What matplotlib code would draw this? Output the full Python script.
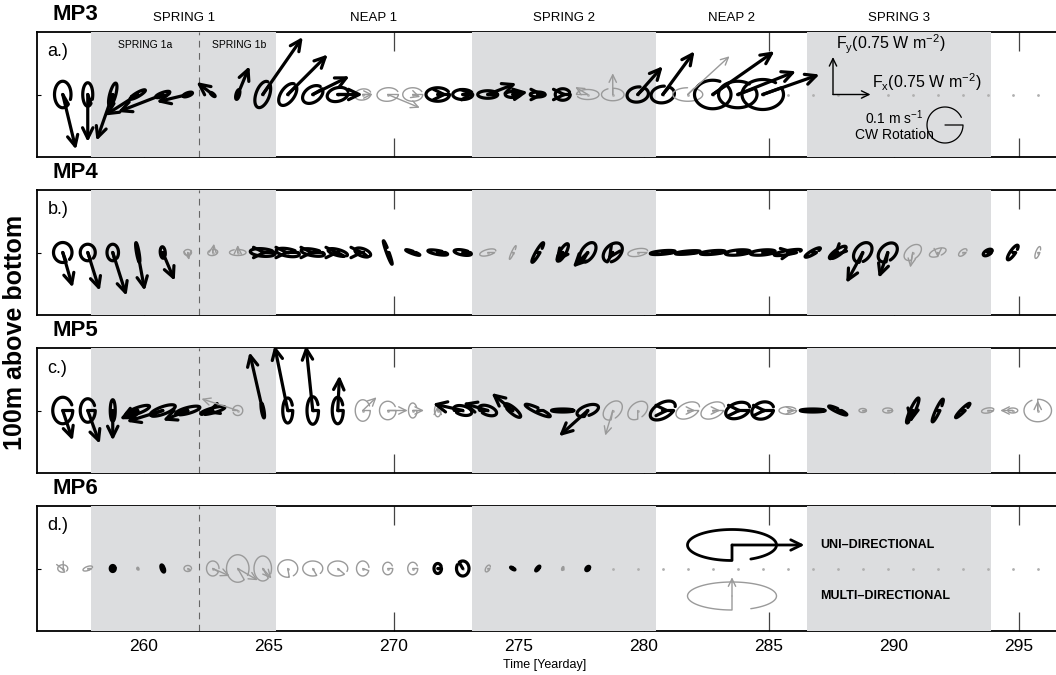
import matplotlib
matplotlib.use('Agg')
import matplotlib.pyplot as plt
from matplotlib.patches import FancyArrowPatch
import numpy as np

plt.rcParams['font.family'] = ['Liberation Sans', 'DejaVu Sans']
plt.rcParams['mathtext.default'] = 'regular'

# hourly-averaged tidal ellipses, one per day starting at yearday 256.75
yeardays = 256.75 + np.arange(41)

# spring / neap periods (shaded = spring)
springs = [(257.9, 265.3), (273.1, 280.5), (286.5, 293.9)]
spring1_split = 262.2
period_names = ['SPRING 1', 'NEAP 1', 'SPRING 2', 'NEAP 2', 'SPRING 3']
period_mid = [261.6, 269.2, 276.8, 283.5, 290.2]

# per-station ellipse parameters: semi-major, semi-minor, orientation (deg),
# phase direction (deg), energy flux Fx, Fy, uni-directional flag
mp3_a = [.53, .47, .47, .35, .3, .2, .12, .2, .55, .5, .45, .43, .33, .43, .4,
         .47, .4, .4, .3, .3, .3, .45, .45, .43, .47, .6, .73, .77, .83]
mp3_b = [.33, .2, .12, .08, .08, .07, .04, .07, .27, .27, .3, .27, .22, .27, .27,
         .27, .2, .15, .12, .1, .23, .2, .25, .3, .33, .27, .57, .53, .6]
mp3_ang = [90, 90, 75, 30, 20, 20, -40, 75, 70, 55, 35, 15, 10, 5, 0,
           0, 0, 0, 0, 0, 0, 0, 0, 10, 10, 0, 0, 0, 0]
mp3_ph = [-60, -70, -100, 200, 200, 200, 140, 60, 55, 45, 30, 0, 0, 0, 0,
          0, 0, 0, 0, 0, 0, 180, 90, 45, 50, 45, 35, 20, 20]
mp3_fx = [.53, 0, -.65, -1.32, -1.8, -1.25, -.65, .47, 1.6, 1.6, 1.47, 1.0, .4, 1.28, .3,
          .4, .5, 1.15, .6, .3, .2, -.5, 0, 1.0, 1.27, 1.67, 2.47, 2.33, 2.27]
mp3_fy = [-2.2, -1.9, -1.85, -.84, -.7, -.3, .5, 1.13, 2.3, 1.6, .73, 0, 0, -.53, -.1,
          0, .05, .45, .1, 0, 0, .3, .85, 1.13, 1.73, 1.53, 1.73, .93, .8]
mp3_uni = [1, 1, 1, 1, 1, 1, 1, 1, 1, 1, 1, 1, 0, 0, 0,
           1, 1, 1, 1, 1, 1, 0, 0, 1, 1, 0, 1, 1, 1]

mp4_a = [.4, .33, .33, .4, .23, .15, .2, .33, .5, .47, .47, .4, .33, .5, .3, .4, .35, .33, .3, .45,
         .4, .45, .45, .4, .5, .5, .5, .5, .5, .55, .35, .4, .45, .45, .4, .35, .2, .2, .35, .25]
mp4_b = [.37, .3, .23, .05, .1, .12, .12, .12, .15, .15, .13, .12, .15, .05, .05, .08, .1, .12, .05, .08,
         .12, .25, .3, .15, .07, .06, .07, .1, .1, .08, .08, .12, .3, .3, .25, .15, .1, .1, .1, .08]
mp4_ang = [90, 90, 90, 100, 95, 0, 10, 0, -5, -10, -10, -15, -20, -70, -20, -10, -10, 15, 65, 60,
           60, 55, 45, 10, 5, 5, 5, 5, 5, 10, 30, 35, 50, 45, 40, 20, 40, 30, 55, 70]
mp4_ph = [-70, -70, -75, -80, -70, -80, 90, 90, 0, 0, 0, -30, -40, 0, 0, 0, 0, 0, 0, 0,
          -120, -120, -120, 0, 0, 0, 0, 0, 0, 0, 0, -140, -110, -100, -100, -90, 0, 0, 0, 0]
mp4_fx = [.4, .48, .55, .28, .48, .05, .05, 0, .2, .1, .1, .1, .1, 0, 0, 0, 0, 0, 0, 0,
          -.3, -.6, -.2, 0, 0, 0, 0, 0, 0, .3, 0, -.2, -.66, -.36, -.1, 0, 0, 0, 0, 0]
mp4_fy = [-1.4, -1.53, -1.73, -1.53, -1.13, -.3, .35, .3, 0, 0, 0, 0, 0, 0, 0, 0, 0, 0, 0, 0,
          -.4, -.6, -.3, 0, 0, 0, 0, 0, 0, .05, 0, -.2, -1.22, -1.02, -.6, -.2, 0, 0, 0, 0]
mp4_uni = [1, 1, 1, 1, 1, 0, 0, 0, 1, 1, 1, 1, 1, 1, 1, 1, 1, 0, 0, 1,
           1, 1, 1, 0, 1, 1, 1, 1, 1, 1, 1, 1, 1, 1, 0, 0, 0, 1, 1, 0]

mp5_a = [.53, .47, .43, .5, .53, .5, .5, .2, .3, .5, .55, .53, .43, .37, .3, .25, .37, .37, .4, .55,
         .45, .45, .45, .45, .55, .5, .5, .5, .45, .35, .5, .4, .15, .2, .55, .5, .4, .25, .2, .55]
mp5_b = [.4, .3, .1, .12, .15, .12, .1, .2, .05, .2, .23, .22, .3, .33, .17, .13, .18, .18, .12, .1,
         .06, .2, .3, .3, .3, .3, .3, .3, .33, .15, .06, .07, .08, .1, .1, .08, .07, .1, .1, .45]
mp5_ang = [90, 90, 90, 20, 20, 15, 15, 0, 100, 90, 90, 90, 90, 90, 90, 90, -15, -20, -40, -25,
           0, 20, 45, 40, 30, 25, 25, 20, 20, 0, 0, -25, 0, 0, 65, 65, 45, 10, 0, 0]
mp5_ph = [0, 0, -90, 200, 200, 200, 200, 180, 100, 0, 0, 0, 0, 0, 0, 90, 180, 180, 150, 0,
          0, -120, -100, -90, 0, 0, 0, 0, 0, 0, 0, 0, 0, 0, -110, 0, 0, 0, 180, 90]
mp5_fx = [.4, .48, 0, -.72, -1.45, -1.0, -.3, -1.45, -.53, -.53, -.27, .07, .55, .8, .45, 0, -1.2, -1.0, -.85, 0,
          0, -1.15, -.3, 0, .3, .3, .3, .2, .2, .3, 0, 0, 0, 0, -.1, 0, 0, 0, -.5, 0]
mp5_fy = [-1.2, -1.33, -1.2, -.35, -.45, -.4, -.1, .47, 2.33, 2.6, 2.6, 1.4, .53, 0, 0, .2, .27, .3, .7, 0,
          0, -1.03, -1.0, 0, 0, 0, 0, 0, 0, 0, 0, 0, 0, 0, -.5, 0, 0, 0, 0, .4]
mp5_uni = [1, 1, 1, 1, 1, 1, 1, 0, 1, 1, 1, 1, 0, 0, 0, 0, 1, 1, 1, 1,
           1, 1, 0, 0, 1, 0, 0, 1, 1, 0, 1, 1, 0, 0, 1, 1, 1, 0, 0, 0]

mp6_a = [.2, .2, .12, .05, .15, .15, .3, .55, .5, .4, .4, .4, .3, .25, .25, .2, .3, .15, .1, .12, .08, .1]
mp6_b = [.15, .08, .1, .04, .06, .12, .25, .45, .35, .35, .3, .3, .25, .2, .2, .15, .25, .08, .03, .04, .04, .06]
mp6_ang = [0, 20, 90, 90, 110, 0, 90, 90, 90, 0, 0, 0, 90, 90, 90, 90, 90, 60, -30, 50, 70, 50]
mp6_ph = [-60, 0, 0, 0, 0, -30, -30, -60, -60, -80, -60, -40, -20, 0, 0, 0, 120, 0, 0, 0, 0, 0]
mp6_fx = [.05, 0, 0, 0, 0, 0, .68, .8, .35, 0, 0, 0, 0, 0, 0, 0, 0, 0, 0, 0, 0, 0]
mp6_fy = [-.1, 0, 0, 0, 0, 0, -.3, -.47, -.4, 0, 0, 0, 0, 0, 0, 0, 0, 0, 0, 0, 0, 0]
mp6_uni = [0, 0, 1, 0, 1, 0, 0, 0, 0, 0, 0, 0, 0, 0, 0, 1, 1, 0, 1, 1, 0, 1]

stations = ['MP3', 'MP4', 'MP5', 'MP6']
letters = ['a.)', 'b.)', 'c.)', 'd.)']
params = [
    (mp3_a, mp3_b, mp3_ang, mp3_ph, mp3_fx, mp3_fy, mp3_uni),
    (mp4_a, mp4_b, mp4_ang, mp4_ph, mp4_fx, mp4_fy, mp4_uni),
    (mp5_a, mp5_b, mp5_ang, mp5_ph, mp5_fx, mp5_fy, mp5_uni),
    (mp6_a, mp6_b, mp6_ang, mp6_ph, mp6_fx, mp6_fy, mp6_uni),
]

BLACK = 'black'
GREY = '#9a9a9a'
SHADE = '#dcdddf'


def arrow(ax, x0, y0, dx, dy, color, lw, scale):
    p = FancyArrowPatch((x0, y0), (x0 + dx, y0 + dy),
                        arrowstyle='->,head_length=0.45,head_width=0.22',
                        mutation_scale=scale, color=color, lw=lw,
                        shrinkA=0, shrinkB=0, zorder=6,
                        capstyle='round', joinstyle='round')
    ax.add_patch(p)


def ellipse(ax, x0, y0, a, b, ang, ph, fx, fy, uni, lw=None):
    col = BLACK if uni else GREY
    if lw is None:
        lw = 2.3 if uni else 1.0
    th = np.deg2rad(ang)
    psi = np.deg2rad(ph - ang)
    t0 = np.arctan2(np.sin(psi) / b, np.cos(psi) / a)
    t = t0 - np.linspace(0, np.deg2rad(335), 90)
    ex, ey = a * np.cos(t), b * np.sin(t)
    xs = x0 + ex * np.cos(th) - ey * np.sin(th)
    ys = y0 + ex * np.sin(th) + ey * np.cos(th)
    ax.plot(np.r_[x0, xs], np.r_[y0, ys], color=col, lw=lw,
            solid_capstyle='round', solid_joinstyle='round', zorder=5)
    if np.hypot(fx, fy) > 0.05:
        arrow(ax, x0, y0, fx, fy, col, lw, 17 if uni else 12)


W, H = 1056, 675
fig = plt.figure(figsize=(W / 100, H / 100), dpi=100)

x_left = 255.72
ax_w = 1080
tops = [32, 190, 348, 506]
ph_ = 125
axes = []
for i, top in enumerate(tops):
    ax = fig.add_axes([37 / W, 1 - (top + ph_) / H, ax_w / W, ph_ / H])
    ax.set_xlim(x_left, x_left + ax_w / 25)
    ax.set_ylim(-2.5, 2.5)
    ax.set_axisbelow(True)
    for s in ax.spines.values():
        s.set_linewidth(1.3)
    for lo, hi in springs:
        ax.axvspan(lo, hi, color=SHADE, lw=0, zorder=3)
    ax.axvline(spring1_split, color='#666666', lw=0.8, ls=(0, (6, 5)), zorder=3.2)
    ax.plot(yeardays, np.zeros_like(yeardays), ls='none', marker='.', ms=2,
            color='#b0b0b0', zorder=3.5)

    ax.set_xticks(np.arange(260, 300, 5))
    ax.tick_params(axis='x', direction='in', length=14, width=0.9, color='#444444',
                   top=True, bottom=True, labelsize=12.5, pad=6,
                   labelbottom=(i == len(tops) - 1))
    ax.set_yticks([0])
    ax.tick_params(axis='y', direction='in', length=3, width=0.8, labelleft=False)

    a_, b_, ang_, ph0, fx_, fy_, uni_ = params[i]
    for k in range(len(a_)):
        ellipse(ax, yeardays[k], 0, a_[k], b_[k], ang_[k], ph0[k], fx_[k], fy_[k], uni_[k])

    ax.text(256.15, 0.84 * 5 - 2.5, letters[i], fontsize=13, va='center', ha='left', zorder=7)
    fig.text(52 / W, 1 - (top - 17) / H, stations[i], fontsize=16, fontweight='bold',
             va='center', ha='left')
    axes.append(ax)

ax3, ax4, ax5, ax6 = axes

# period names above the first panel
for name, xm in zip(period_names, period_mid):
    ax3.text(xm, 1.112, name, transform=ax3.get_xaxis_transform(), ha='center',
             va='center', fontsize=9.5)
ax3.text(260.04, 0.896, 'SPRING 1a', transform=ax3.get_xaxis_transform(),
         ha='center', va='center', fontsize=7.5, zorder=7)
ax3.text(263.8, 0.896, 'SPRING 1b', transform=ax3.get_xaxis_transform(),
         ha='center', va='center', fontsize=7.5, zorder=7)

# flux scale and rotation key
arrow(ax3, 287.56, 0.0, 0, 1.5, BLACK, 1.0, 12)
arrow(ax3, 287.56, 0.0, 1.5, 0, BLACK, 1.0, 12)
ax3.text(287.68, 2.02, r'F$_y$(0.75 W m$^{-2}$)', fontsize=11.5, va='center', ha='left', zorder=7)
ax3.text(289.14, 0.48, r'F$_x$(0.75 W m$^{-2}$)', fontsize=11.5, va='center', ha='left', zorder=7)
ax3.text(290.0, -0.92, r'0.1 m s$^{-1}$', fontsize=10, va='center', ha='center', zorder=7)
ax3.text(290.0, -1.62, 'CW Rotation', fontsize=10, va='center', ha='center', zorder=7)
ellipse(ax3, 292.04, -1.22, 0.72, 0.72, 0, 0, 0, 0, 1, lw=0.9)

# uni / multi-directional key
ellipse(ax6, 283.52, 0.94, 1.78, 0.62, 0, -90, 2.9, 0, 1, lw=2.0)
ellipse(ax6, 283.52, -1.1, 1.78, 0.56, 0, -90, 0, 0.75, 0, lw=1.0)
ax6.text(287.05, 0.92, 'UNI\u2013DIRECTIONAL', fontsize=9, fontweight='bold',
         va='center', ha='left', zorder=7)
ax6.text(287.05, -1.1, 'MULTI\u2013DIRECTIONAL', fontsize=9, fontweight='bold',
         va='center', ha='left', zorder=7)

fig.text(545 / W, 1 - 665 / H, 'Time [Yearday]', fontsize=9, ha='center', va='center')
fig.text(15 / W, 1 - 332 / H, '100m above bottom', fontsize=18, fontweight='bold',
         rotation=90, ha='center', va='center')

fig.savefig('out.png', dpi=100)
